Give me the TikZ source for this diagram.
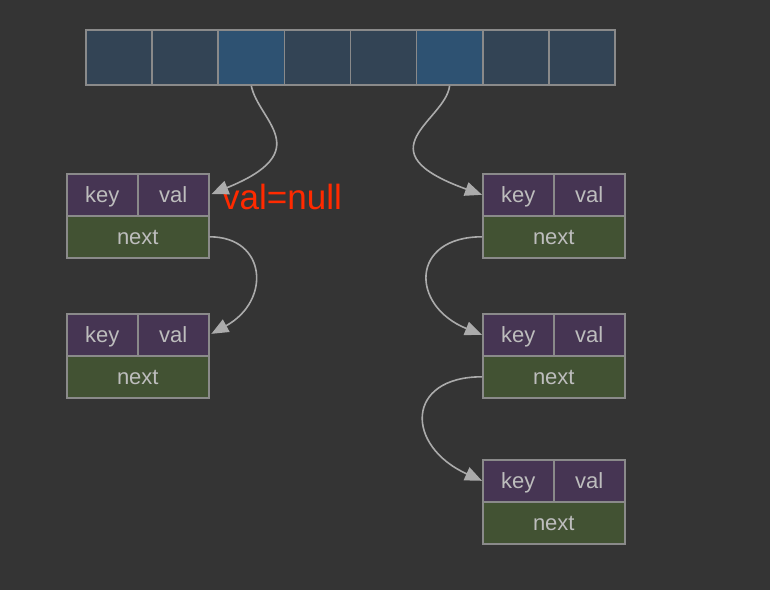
\documentclass[tikz,border=0pt]{standalone}
\usepackage{fontspec}
\setmainfont{Liberation Sans}
\usetikzlibrary{arrows.meta}

\definecolor{bg}{HTML}{343434}
\definecolor{rim}{HTML}{8A8A8A}
\definecolor{bucket}{HTML}{334455}
\definecolor{hot}{HTML}{2E5272}
\definecolor{kv}{HTML}{463553}
\definecolor{nx}{HTML}{425233}
\definecolor{ink}{HTML}{BDBDBD}
\definecolor{link}{HTML}{ABABAB}
\definecolor{alert}{HTML}{FF2A00}

\begin{document}
\begin{tikzpicture}[x=1pt, y=-1pt,
    cell/.style={draw=rim, line width=1.6pt, minimum width=66pt, minimum height=55pt, inner sep=0pt},
    field/.style={draw=rim, line width=1.6pt, minimum width=71pt, minimum height=42pt, inner sep=0pt,
        anchor=north west, fill=kv, text=ink, text height=15pt, text depth=0pt,
        font=\fontsize{22}{22}\selectfont},
    ptr/.style={field, minimum width=142pt, fill=nx},
    link/.style={draw=link, line width=1.6pt, -{Triangle[length=17pt,width=14pt]}}]
    \fill[bg](0, 0)rectangle(770, 590);
    \useasboundingbox(0, 0)rectangle(770, 590);
    % bucket array
    \foreach \i/\c in {0/bucket, 1/bucket, 2/hot, 3/bucket, 4/bucket, 5/hot, 6/bucket, 7/bucket}
        \node[cell, fill=\c] (c\i) at ({119.1+66.1*\i}, 57.5) {};
    % entries
    \foreach \n/\x/\y in {a/66/173, b/66/313, c/482/173, d/482/313, e/482/459}{
        \node[field] (\n k) at (\x, \y) {key};
        \node[field] (\n v) at (\x+71, \y) {val};
        \node[ptr] (\n n) at (\x, \y+42) {next};
    }
    \node[anchor=west, text=alert, font=\fontsize{35}{35}\selectfont, inner sep=0pt] (note) at (222, 197) {val=null};
    % chains
    \draw[link, shorten >=2pt](c2.south) .. controls +(7, 35) and +(108, -44) .. (av.east);
    \draw[link](c5.south) .. controls +(-4, 35) and +(-122, -44) .. (ck.west);
    \draw[link, shorten >=2pt](an.east) .. controls +(57, 0) and +(62, -34) .. (bv.east);
    \draw[link](cn.west) .. controls +(-72, 0) and +(-72, -29) .. (dk.west);
    \draw[link](dn.west) .. controls +(-77, 0) and +(-77, -35) .. (ek.west);
\end{tikzpicture}
\end{document}
